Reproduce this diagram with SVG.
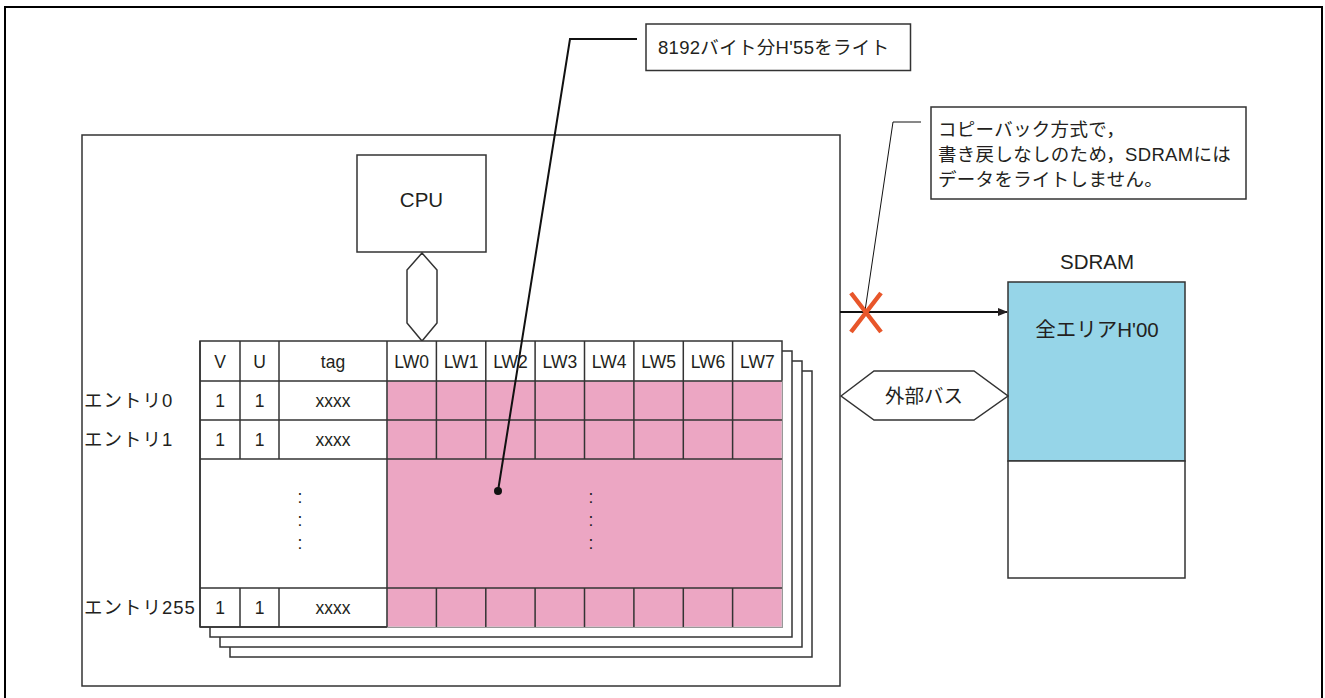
<svg xmlns="http://www.w3.org/2000/svg" width="1325" height="698" viewBox="0 0 1325 698">
<style>
text{font-family:"Liberation Sans","Noto Sans CJK JP",sans-serif;fill:#231f20}
.ln{stroke:#333;stroke-width:1.5;fill:none}
.bx{stroke:#333;stroke-width:1.5;fill:#fff}
.t18{font-size:18.5px;letter-spacing:0.3px}
.t17{font-size:17.5px}
.ent{font-size:18.5px;letter-spacing:1px}
.mid{text-anchor:middle}
</style>
<defs>
<marker id="ah" markerWidth="10" markerHeight="8" refX="9" refY="4" orient="auto" markerUnits="userSpaceOnUse">
<path d="M0,0 L10,4 L0,8 Z" fill="#231f20"/>
</marker>
</defs>
<rect x="0" y="0" width="1325" height="698" fill="#fff"/>
<rect x="5" y="7" width="1317" height="700" fill="none" stroke="#000" stroke-width="2"/>
<g id="chip">
<rect x="82" y="135" width="758" height="551" class="bx"/>
</g>
<g id="cpu">
<rect x="357" y="155" width="129" height="97" class="bx"/>
<text x="421.5" y="207" class="mid" font-size="20.5">CPU</text>
</g>
<g id="internal-bus">
<polygon points="422,253 437,270 437,323 422,341 407,323 407,270" class="bx"/>
</g>
<g id="cache">
<rect x="230" y="371" width="582" height="286" class="bx"/>
<rect x="220" y="361" width="582" height="286" class="bx"/>
<rect x="210" y="351" width="582" height="286" class="bx"/>
<rect x="200" y="341" width="582" height="286" class="bx"/>
<rect x="387" y="381" width="395" height="246" fill="#eca6c3" stroke="#ccc" stroke-width="1"/>
<g class="ln">
<line x1="200" y1="381" x2="782" y2="381"/>
<line x1="200" y1="420" x2="782" y2="420"/>
<line x1="200" y1="459" x2="782" y2="459"/>
<line x1="200" y1="588" x2="782" y2="588"/>
<line x1="240" y1="341" x2="240" y2="459"/>
<line x1="279" y1="341" x2="279" y2="459"/>
<line x1="240" y1="588" x2="240" y2="627"/>
<line x1="279" y1="588" x2="279" y2="627"/>
<line x1="387" y1="341" x2="387" y2="627"/>
<path d="M436.4,341V459M485.8,341V459M535.1,341V459M584.5,341V459M633.9,341V459M683.3,341V459M732.6,341V459"/>
<path d="M436.4,588V627M485.8,588V627M535.1,588V627M584.5,588V627M633.9,588V627M683.3,588V627M732.6,588V627"/>
<line x1="200" y1="341" x2="200" y2="627"/>
<line x1="200" y1="627" x2="387" y2="627"/>
</g>
<g class="t17 mid">
<text x="220" y="368">V</text>
<text x="259.5" y="368">U</text>
<text x="333" y="368">tag</text>
<text x="411.7" y="368">LW0</text>
<text x="461.1" y="368">LW1</text>
<text x="510.5" y="368">LW2</text>
<text x="559.8" y="368">LW3</text>
<text x="609.2" y="368">LW4</text>
<text x="658.6" y="368">LW5</text>
<text x="708" y="368">LW6</text>
<text x="757.3" y="368">LW7</text>
<text x="220" y="407">1</text><text x="259.5" y="407">1</text><text x="333" y="407">xxxx</text>
<text x="220" y="446">1</text><text x="259.5" y="446">1</text><text x="333" y="446">xxxx</text>
<text x="220" y="614">1</text><text x="259.5" y="614">1</text><text x="333" y="614">xxxx</text>
</g>
<g class="t17 mid">
<text x="300" y="503">:</text><text x="300" y="526">:</text><text x="300" y="549">:</text>
<text x="591" y="503">:</text><text x="591" y="526">:</text><text x="591" y="549">:</text>
</g>
<g class="ent">
<text x="84" y="407">エントリ0</text>
<text x="84" y="446">エントリ1</text>
<text x="84" y="614">エントリ255</text>
</g>
</g>
<g id="sdram">
<text x="1097" y="269" class="mid" font-size="20.5">SDRAM</text>
<rect x="1008" y="282" width="177" height="179" fill="#96d5e8" stroke="#333" stroke-width="1.5"/>
<rect x="1008" y="461" width="177" height="117" class="bx"/>
<text x="1097" y="337" class="mid" font-size="20.5">全エリアH'00</text>
</g>
<g id="external-bus">
<polygon points="841,396 874,371 974,371 1008,396 974,420 874,420" class="bx"/>
<text x="924" y="403" class="mid" font-size="19.5">外部バス</text>
</g>
<g id="note1">
<rect x="646" y="24" width="264.5" height="46.5" class="bx"/>
<text x="658" y="54" class="t18">8192バイト分H'55をライト</text>
</g>
<g id="note2">
<rect x="931" y="107" width="315" height="92" class="bx"/>
<g class="t18">
<text x="938" y="136">コピーバック方式で，</text>
<text x="938" y="161">書き戻しなしのため，SDRAMには</text>
<text x="938" y="186">データをライトしません。</text>
</g>
</g>
<g id="connectors">
<polyline points="637,39 570,39 498,491" fill="none" stroke="#111" stroke-width="2"/>
<circle cx="498" cy="491" r="4" fill="#111"/>
<polyline points="921,122 893,122 865,311" fill="none" stroke="#111" stroke-width="1"/>
<line x1="840" y1="312" x2="1007" y2="312" stroke="#111" stroke-width="2" marker-end="url(#ah)"/>
<path d="M851,293 L881,332 M881,293 L851,332" stroke="#e8562a" stroke-width="4.5" fill="none"/>
</g>
</svg>
